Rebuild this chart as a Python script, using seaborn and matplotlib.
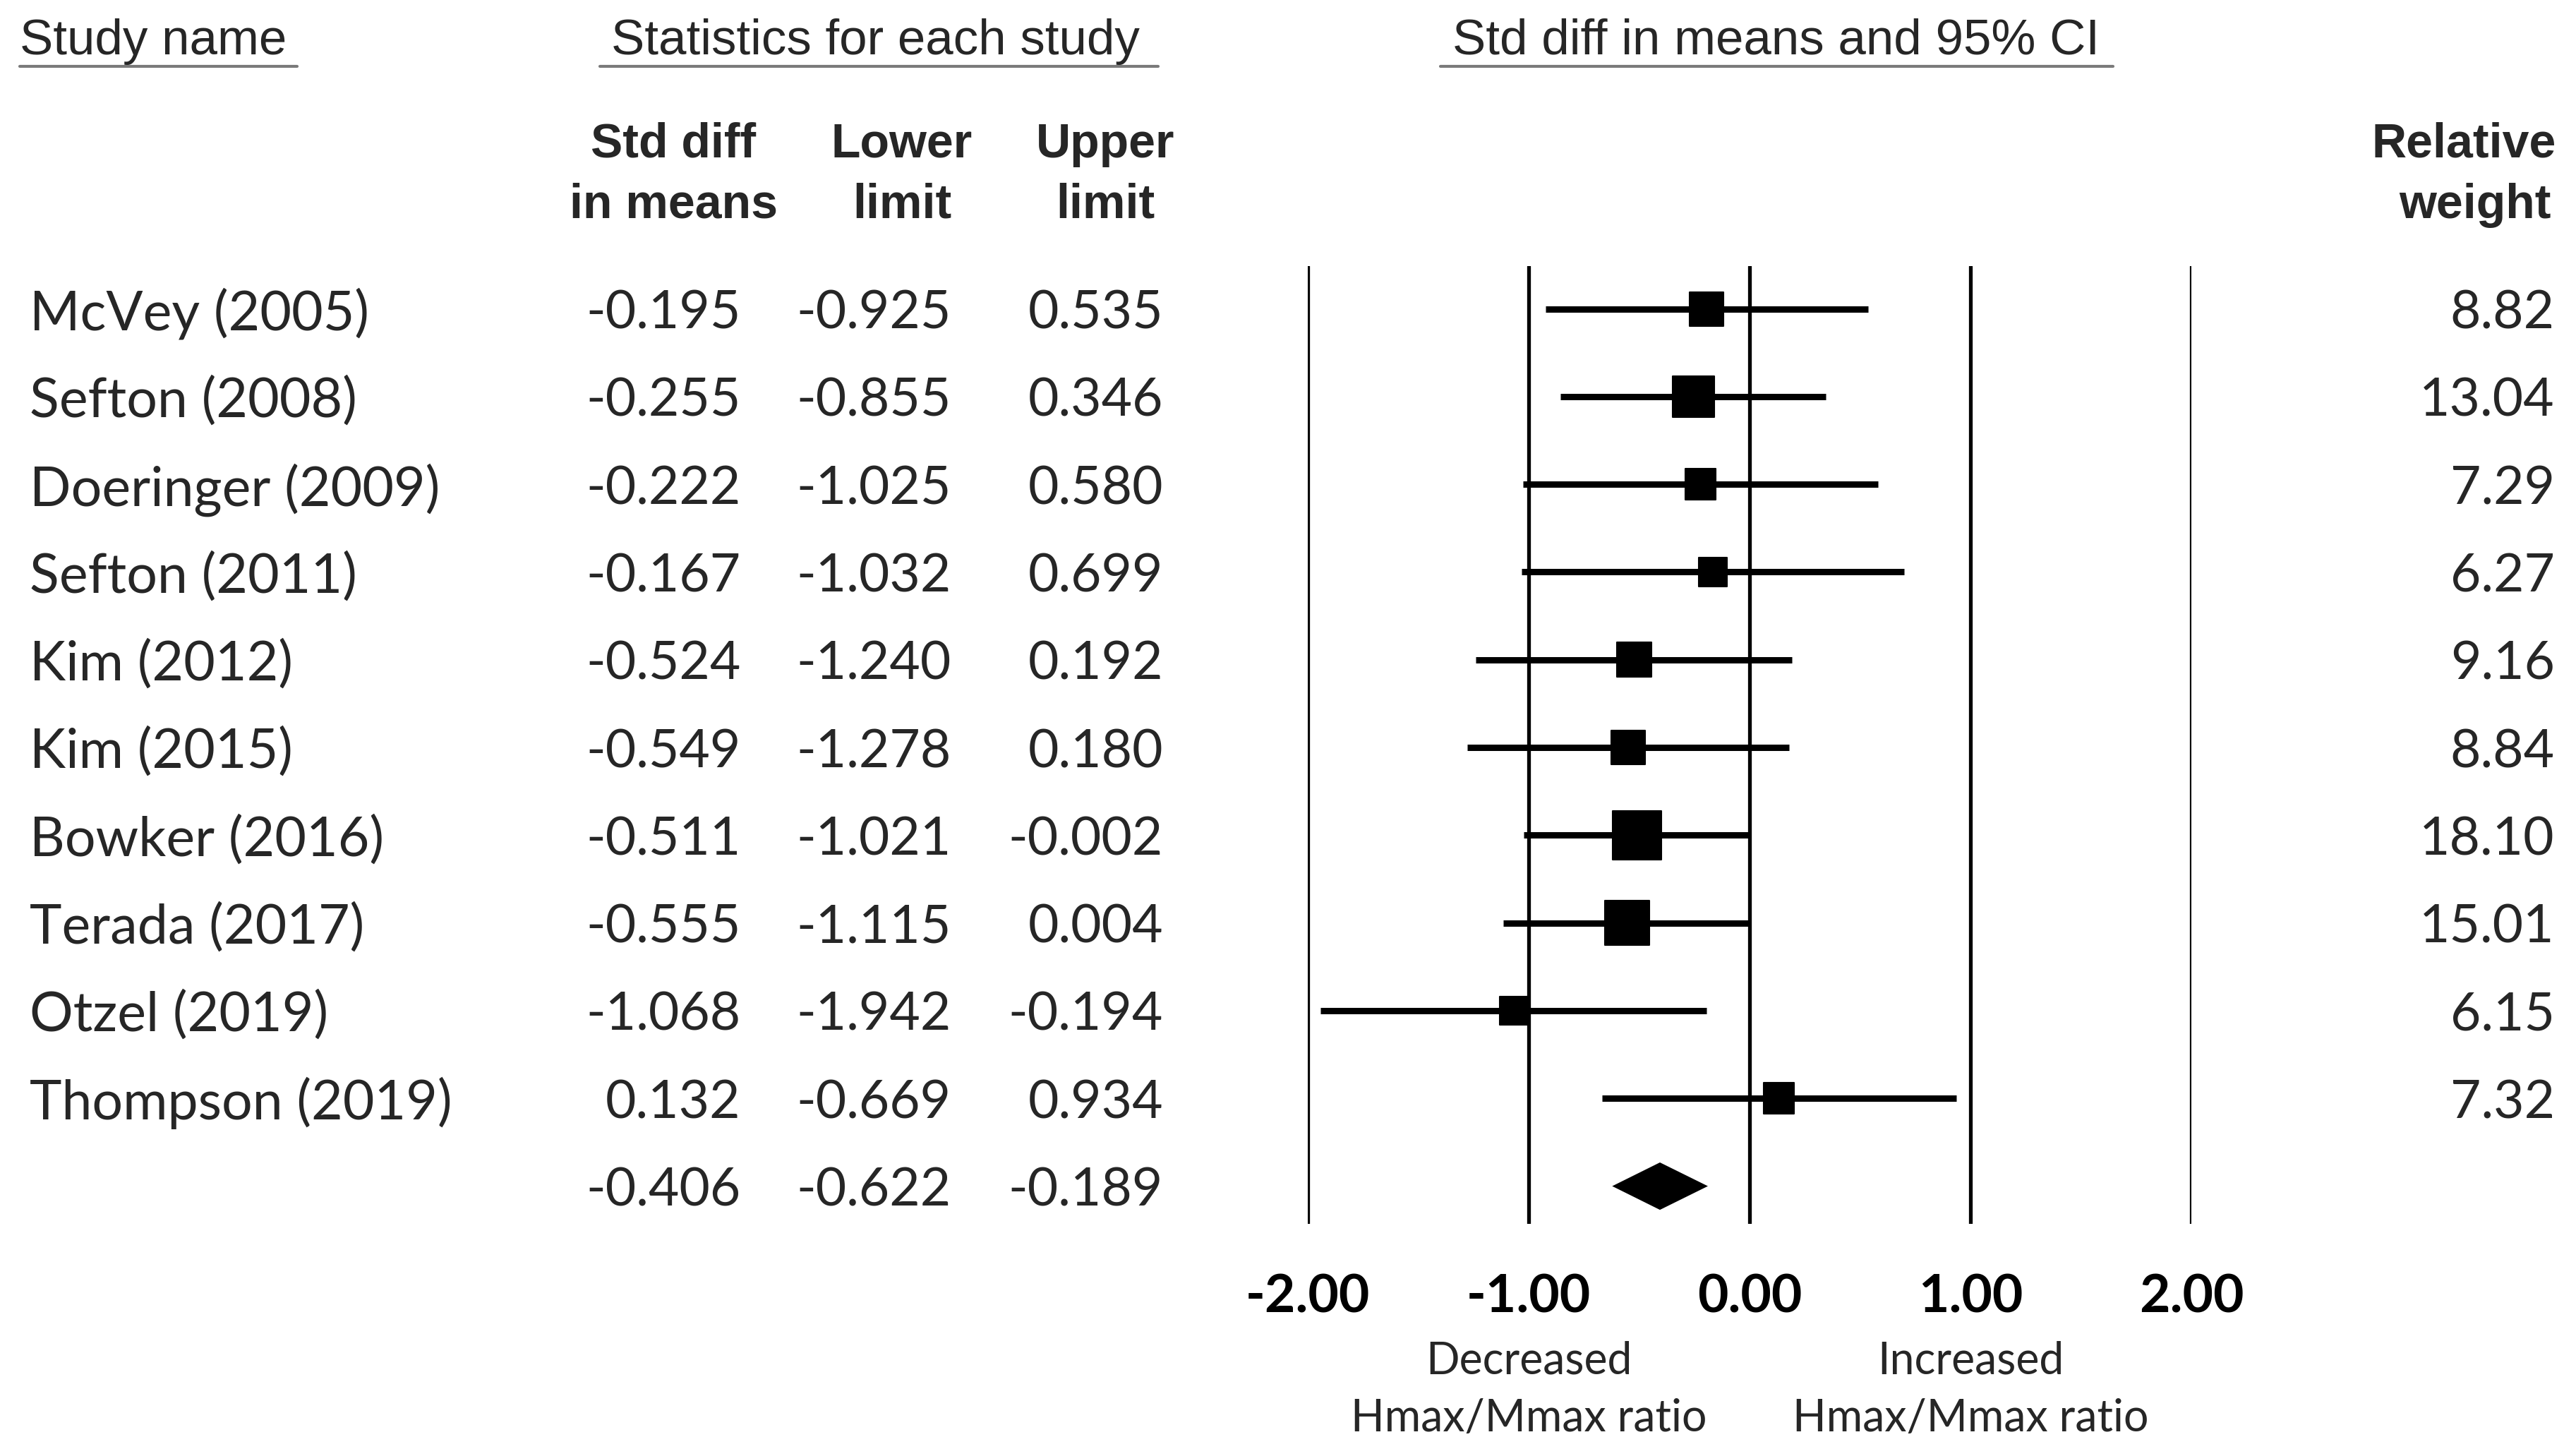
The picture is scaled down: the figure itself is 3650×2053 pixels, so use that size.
import numpy as np
import pandas as pd
import matplotlib
matplotlib.use("Agg")
import matplotlib.pyplot as plt
from matplotlib.lines import Line2D
from matplotlib.transforms import blended_transform_factory
import seaborn as sns

# ---------------- data ----------------
studies = ["McVey (2005)", "Sefton (2008)", "Doeringer (2009)", "Sefton (2011)",
           "Kim (2012)", "Kim (2015)", "Bowker (2016)", "Terada (2017)",
           "Otzel (2019)", "Thompson (2019)"]
std_diff = [-0.195, -0.255, -0.222, -0.167, -0.524, -0.549, -0.511, -0.555, -1.068, 0.132]
lower = [-0.925, -0.855, -1.025, -1.032, -1.240, -1.278, -1.021, -1.115, -1.942, -0.669]
upper = [0.535, 0.346, 0.580, 0.699, 0.192, 0.180, -0.002, 0.004, -0.194, 0.934]
weights = [8.82, 13.04, 7.29, 6.27, 9.16, 8.84, 18.10, 15.01, 6.15, 7.32]
summary_est = -0.406
summary_lower = -0.622
summary_upper = -0.189
xticks = [-2, -1, 0, 1, 2]
xtick_labels = ["-2.00", "-1.00", "0.00", "1.00", "2.00"]
top_headers = ["Study name", "Statistics for each study", "Std diff in means and 95% CI"]
col_headers = [("Std diff", "in means"), ("Lower", "limit"), ("Upper", "limit")]
weight_header = ("Relative", "weight")
left_note = ("Decreased", "Hmax/Mmax ratio")
right_note = ("Increased", "Hmax/Mmax ratio")

df = pd.DataFrame({"study": studies, "est": std_diff, "lo": lower, "hi": upper,
                   "weight": weights})
df["row"] = np.arange(len(df))
summary_row = len(df)

# ---------------- style ----------------
sns.set_theme(style="white")
plt.rcParams["font.family"] = ["Lato", "DejaVu Sans"]
ARIAL = ["Liberation Sans", "DejaVu Sans"]

W, H = 1568.0, 882.0          # layout reference units
fig = plt.figure(figsize=(36.5, 20.53), dpi=100)
fig.patch.set_facecolor("white")

def fx(px):
    return px / W

ax_left, ax_right, ax_top, ax_bot = 796, 1334, 162, 745
ax = fig.add_axes([fx(ax_left), 1 - ax_bot / H, fx(ax_right) - fx(ax_left), (ax_bot - ax_top) / H])
ax.set_facecolor("white")

row0, row_step = 188.0, 53.4
def ry(py):
    return (py - row0) / row_step

# vertical reference lines
for t in xticks:
    ax.axvline(t, color="black", lw=3.8, zorder=1)

# CI lines
ax.hlines(df["row"], df["lo"], df["hi"], color="black", lw=6.5, zorder=2)

# squares, area proportional to weight
k = 136.0
wmin, wmax = df["weight"].min(), df["weight"].max()
sns.scatterplot(data=df, x="est", y="row", size="weight",
                sizes=(k * wmin, k * wmax), size_norm=(wmin, wmax),
                marker="s", color="black", edgecolor="black", linewidth=1.5,
                legend=False, ax=ax, zorder=3)

# summary diamond
hh = 0.27
ax.fill([summary_lower, summary_est, summary_upper, summary_est],
        [summary_row, summary_row - hh, summary_row, summary_row + hh],
        color="black", zorder=3, lw=0)

ax.set_xlim(-2, 2)
ax.set_ylim(ry(ax_bot), ry(ax_top))
ax.set_xlabel("")
ax.set_ylabel("")
ax.set_yticks([])
ax.set_xticks(xticks, xtick_labels)
for lab in ax.get_xticklabels():
    lab.set_fontweight("bold")
    lab.set_fontsize(54)
    lab.set_color("black")
ax.tick_params(axis="x", length=0, pad=50)
for s in ax.spines.values():
    s.set_visible(False)

# notes below axis
for xc, (l1, l2) in [(-1, left_note), (1, right_note)]:
    ax.text(xc, ry(826), l1, ha="center", va="center_baseline", fontsize=45, clip_on=False)
    ax.text(xc, ry(861), l2, ha="center", va="center_baseline", fontsize=45, clip_on=False)

# ---------------- table text ----------------
tr = blended_transform_factory(fig.transFigure, ax.transData)
body_fs = 54
name_fs = 55.5

for _, r in df.iterrows():
    y = r["row"]
    fig.text(fx(18), y, r["study"], transform=tr, ha="left", va="center_baseline", fontsize=name_fs)
    fig.text(fx(451), y, f"{r['est']:.3f}", transform=tr, ha="right", va="center_baseline", fontsize=body_fs)
    fig.text(fx(579), y, f"{r['lo']:.3f}", transform=tr, ha="right", va="center_baseline", fontsize=body_fs)
    fig.text(fx(708), y, f"{r['hi']:.3f}", transform=tr, ha="right", va="center_baseline", fontsize=body_fs)
    fig.text(fx(1555), y, f"{r['weight']:.2f}", transform=tr, ha="right", va="center_baseline", fontsize=body_fs)

for xr, v in [(451, summary_est), (579, summary_lower), (708, summary_upper)]:
    fig.text(fx(xr), summary_row, f"{v:.3f}", transform=tr, ha="right", va="center_baseline", fontsize=body_fs)

# top headers with underlines
hdr_y = ry(22)
ul_y = ry(40.5)
fig.text(fx(12), hdr_y, top_headers[0], transform=tr, ha="left", va="center_baseline",
         fontsize=51, family=ARIAL)
fig.text(fx(533), hdr_y, top_headers[1], transform=tr, ha="center", va="center_baseline",
         fontsize=51, family=ARIAL)
fig.text(fx(1081), hdr_y, top_headers[2], transform=tr, ha="center", va="center_baseline",
         fontsize=51, family=ARIAL)
for x0, x1 in [(12, 181), (365, 705), (877, 1286)]:
    fig.add_artist(Line2D([fx(x0), fx(x1)], [ul_y, ul_y], transform=tr, color="#7a7a7a", lw=3))

# column headers
for xc, (l1, l2) in zip([410, 549, 673], col_headers):
    fig.text(fx(xc), ry(85), l1, transform=tr, ha="center", va="center_baseline",
             fontsize=49, fontweight="bold", family=ARIAL)
    fig.text(fx(xc), ry(122), l2, transform=tr, ha="center", va="center_baseline",
             fontsize=49, fontweight="bold", family=ARIAL)
fig.text(fx(1556), ry(85), weight_header[0], transform=tr, ha="right", va="center_baseline",
         fontsize=49, fontweight="bold", family=ARIAL)
fig.text(fx(1553), ry(122), weight_header[1], transform=tr, ha="right", va="center_baseline",
         fontsize=49, fontweight="bold", family=ARIAL)

fig.savefig("out.png", dpi=100, facecolor="white")
